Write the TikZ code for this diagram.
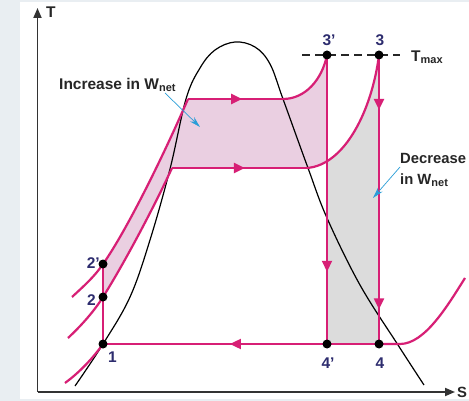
\documentclass[tikz,border=0pt]{standalone}
\usepackage{fontspec}
\setmainfont{Liberation Sans}
\usetikzlibrary{arrows.meta,decorations.markings}
\definecolor{mag}{HTML}{D71F75}
\definecolor{pinkfill}{HTML}{EACFE1}
\definecolor{grayfill}{HTML}{DCDCDC}
\definecolor{navy}{HTML}{2D2C6E}
\definecolor{leader}{HTML}{2A9ED8}
\definecolor{bgc}{HTML}{E9EEF2}
\newcommand\lowsub[1]{{\fontsize{11}{11}\selectfont\raisebox{-2pt}{#1}}}
\begin{document}
\begin{tikzpicture}[x=1pt,y=-1pt,
  proc/.style={draw=mag, line width=2.2pt},
  midarrow/.style={postaction={decorate,decoration={markings,mark=at position #1 with {\arrow{Triangle[length=11pt,width=10pt]}}}}},
  ptlabel/.style={font=\fontsize{15.5}{15.5}\selectfont\bfseries, text=navy, inner sep=0pt},
  txt/.style={font=\fontsize{15.5}{17}\selectfont\bfseries, text=black!85, inner sep=0pt},
  sidetxt/.style={font=\fontsize{14.8}{17}\selectfont\bfseries, text=black!85, inner sep=0pt},
  dot/.style={circle, fill=black, inner sep=0pt, minimum size=9pt},
  leaderarrow/.style={draw=leader, line width=0.7pt, -{Stealth[length=11pt,width=6pt]}},
  axis/.style={draw=black!80, line width=1.8pt, -{Triangle[length=10pt,width=8pt]}}
]
\useasboundingbox (0,0) rectangle (469,401);
\fill[bgc] (0,0) rectangle (469,401);
\fill[white] (20,2) rectangle (469,398.5);

% key points
\coordinate (p1) at (103,344);
\coordinate (p2) at (103,297);
\coordinate (p2p) at (103,264);
\coordinate (p3) at (379,55);
\coordinate (p3p) at (327,55);
\coordinate (p4) at (379,344);
\coordinate (p4p) at (327,344);
\coordinate (a) at (188,99);
\coordinate (b) at (283,99);
\coordinate (c) at (172,168);
\coordinate (d) at (307,168);
\coordinate (e) at (400,344);

% pink area
\begin{scope}
\clip (0,0) rectangle (327,401);
\fill[pinkfill] (p2p) .. controls (123,236) and (158,168) .. (a) -- (b) .. controls (305,99) and (322,80) .. (p3p) -- (p3) .. controls (372,110) and (345,165) .. (d) -- (c) .. controls (155,205) and (125,262) .. (p2) -- cycle;
\end{scope}
% gray area
\begin{scope}
\clip (327,0) rectangle (379,401);
\fill[grayfill] (d) .. controls (345,165) and (372,110) .. (p3) -- (p4) -- (307,344) -- cycle;
\end{scope}

% axes
\coordinate (O) at (37.5,392);
\coordinate (Ttip) at (37.5,8);
\coordinate (Stip) at (455,392);
\draw[axis] (O) -- (Ttip);
\draw[axis] (O) -- (Stip);
\node[txt, anchor=base west] (lblT) at (46,18) {T};
\node[sidetxt, anchor=base west] (lblS) at (457,397) {S};

% saturation dome
\draw[black, line width=1.2pt] plot[smooth, tension=0.6] coordinates {(75,386) (103,344) (130,297) (150,240) (170,169) (186,99) (200,68) (215,50) (235,42) (255,47) (270,64) (283,99) (308,168) (327,218) (360,285) (398,345) (424,385)};

% Tmax line
\draw[black!85, line width=2pt, dash pattern=on 8pt off 5pt] (302,55) -- (400,55);
\node[txt, anchor=base west] (tmax) at (411,62) {T\lowsub{max}};

% high pressure isobar (2')
\draw[proc] (72,297) .. controls (85,285) and (95,276) .. (p2p) .. controls (123,236) and (158,168) .. (a);
\draw[proc, midarrow=0.57] (a) -- (b);
\draw[proc] (b) .. controls (305,99) and (322,80) .. (p3p);
% pressure isobar (2)
\draw[proc] (68,338) .. controls (82,325) and (95,310) .. (p2) .. controls (125,262) and (155,205) .. (c);
\draw[proc, midarrow=0.54] (c) -- (d);
\draw[proc] (d) .. controls (345,165) and (372,110) .. (p3);
% low pressure isobar
\draw[proc] (65,383) .. controls (80,372) and (93,358) .. (p1);
\draw[proc, midarrow=0.54] (p4) -- (p1);
\draw[proc] (p4) -- (e) .. controls (425,344) and (448,305) .. (465,278);
% verticals
\draw[proc] (p1) -- (p2p);
\draw[proc, midarrow=0.75] (p3p) -- (p4p);
\draw[proc, midarrow=0.19, midarrow=0.88] (p3) -- (p4);

% dots
\node[dot] (d1) at (p1) {};
\node[dot] (d2) at (p2) {};
\node[dot] (d2p) at (p2p) {};
\node[dot] (d3) at (p3) {};
\node[dot] (d3p) at (p3p) {};
\node[dot] (d4) at (p4) {};
\node[dot] (d4p) at (p4p) {};

% point labels
\node[ptlabel, anchor=base] (l3p) at (329,46) {3'};
\node[ptlabel, anchor=base] (l3) at (380,46) {3};
\node[ptlabel, anchor=base east] (l2p) at (100,268) {2'};
\node[ptlabel, anchor=base east] (l2) at (96,305) {2};
\node[ptlabel, anchor=base west] (l1) at (108,362) {1};
\node[ptlabel, anchor=base] (l4p) at (328,368) {4'};
\node[ptlabel, anchor=base] (l4) at (380,368) {4};

% annotations
\node[txt, anchor=base west] (inc) at (59,90) {Increase in W\lowsub{net}};
\node[sidetxt, anchor=base west] (dec1) at (400,164) {Decrease};
\node[sidetxt, anchor=base west] (dec2) at (400,185) {in W\lowsub{net}};
\coordinate (incA) at (165,93);
\coordinate (incB) at (200,127);
\coordinate (decA) at (400,167);
\coordinate (decB) at (373,198);
\draw[leaderarrow] (incA) -- (incB);
\draw[leaderarrow] (decA) -- (decB);
\end{tikzpicture}
\end{document}
